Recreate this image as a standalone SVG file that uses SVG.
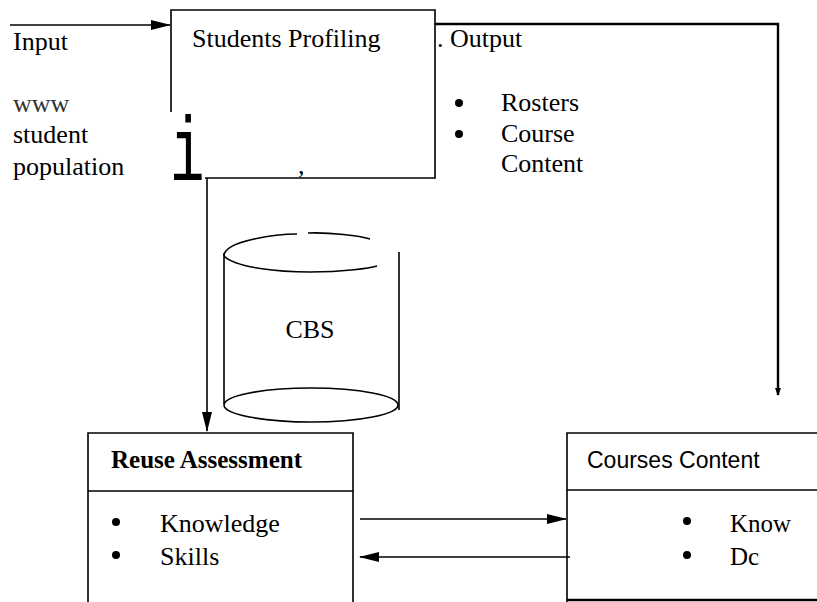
<svg xmlns="http://www.w3.org/2000/svg" width="817" height="602" viewBox="0 0 817 602">
<defs>
<marker id="ah" markerWidth="20" markerHeight="12" refX="19" refY="6" orient="auto" markerUnits="userSpaceOnUse">
<path d="M0,1 L20,6 L0,11 Z" fill="#000"/>
</marker>
<marker id="ahs" markerWidth="8" markerHeight="8" refX="7" refY="4" orient="auto" markerUnits="userSpaceOnUse">
<path d="M0,1 L8,4 L0,7 Z" fill="#000"/>
</marker>
</defs>
<style>
.t{font-family:"Liberation Serif","Times New Roman",serif;font-size:26px;fill:#000}
.s{font-family:"Liberation Sans",Arial,sans-serif;font-size:23px;fill:#000}
.ln{stroke:#000;stroke-width:1.6;fill:none}
.lt{stroke:#000;stroke-width:2.4;fill:none}
</style>
<rect width="817" height="602" fill="#fff"/>
<g id="input-labels">
<text class="t" x="13" y="50">Input</text>
<text class="t" x="13" y="112" style="fill:#333">www</text>
<text class="t" x="13" y="143">student</text>
<text class="t" x="13" y="175">population</text>
</g>
<g id="students-profiling">
<path class="ln" d="M171,112 V10 H435 V178 H205"/>
<text class="t" x="192" y="47">Students Profiling</text>
<text transform="translate(170,180) scale(0.8,1.26)" x="0" y="0" style="font-family:'Liberation Mono',monospace;font-size:72px;fill:#000">i</text>
<text class="t" x="298" y="174">,</text>
</g>
<g id="output">
<text class="t" x="437" y="47">. Output</text>
<circle cx="459" cy="103" r="4" fill="#000"/>
<text class="t" x="501" y="111">Rosters</text>
<circle cx="459" cy="134" r="4" fill="#000"/>
<text class="t" x="501" y="142">Course</text>
<text class="t" x="501" y="172">Content</text>
</g>
<g id="cbs">
<path class="ln" d="M224,256 C224,240 280,234 297,234 M308,233 C330,232 360,236 370,239"/>
<path class="ln" d="M224,256 C236,268 280,272 310,272 C345,272 370,268 377,266"/>
<path class="ln" d="M224,253 V404 M399,252 V410"/>
<ellipse class="ln" cx="311" cy="405" rx="87" ry="17"/>
<text class="t" x="310" y="338" text-anchor="middle">CBS</text>
</g>
<g id="reuse-assessment">
<path class="ln" d="M88,602 V433 H353 V602 M88,491 H353"/>
<text class="t" x="111" y="468" style="font-weight:bold;font-size:25px">Reuse Assessment</text>
<circle cx="116" cy="522" r="4" fill="#000"/>
<text class="t" x="160" y="532">Knowledge</text>
<circle cx="116" cy="555" r="4" fill="#000"/>
<text class="t" x="160" y="565">Skills</text>
</g>
<g id="courses-content">
<path class="ln" d="M567,602 V433 H817 M567,490 H817"/>
<path class="lt" d="M567,600 H817"/>
<text class="s" x="587" y="468">Courses Content</text>
<circle cx="687" cy="521" r="4" fill="#000"/>
<text class="t" x="730" y="532" style="font-size:25px">Know</text>
<circle cx="687" cy="555" r="4" fill="#000"/>
<text class="t" x="730" y="565" style="font-size:25px">Dc</text>
</g>
<g id="connectors">
<line class="ln" x1="10" y1="25" x2="170" y2="25" marker-end="url(#ah)"/>
<path class="lt" d="M435,24 H778 V395" marker-end="url(#ahs)"/>
<line class="ln" x1="207" y1="178" x2="207" y2="431" marker-end="url(#ah)"/>
<line class="ln" x1="360" y1="519" x2="566" y2="519" marker-end="url(#ah)"/>
<line class="ln" x1="570" y1="557" x2="360" y2="557" marker-end="url(#ah)"/>
</g>
</svg>
